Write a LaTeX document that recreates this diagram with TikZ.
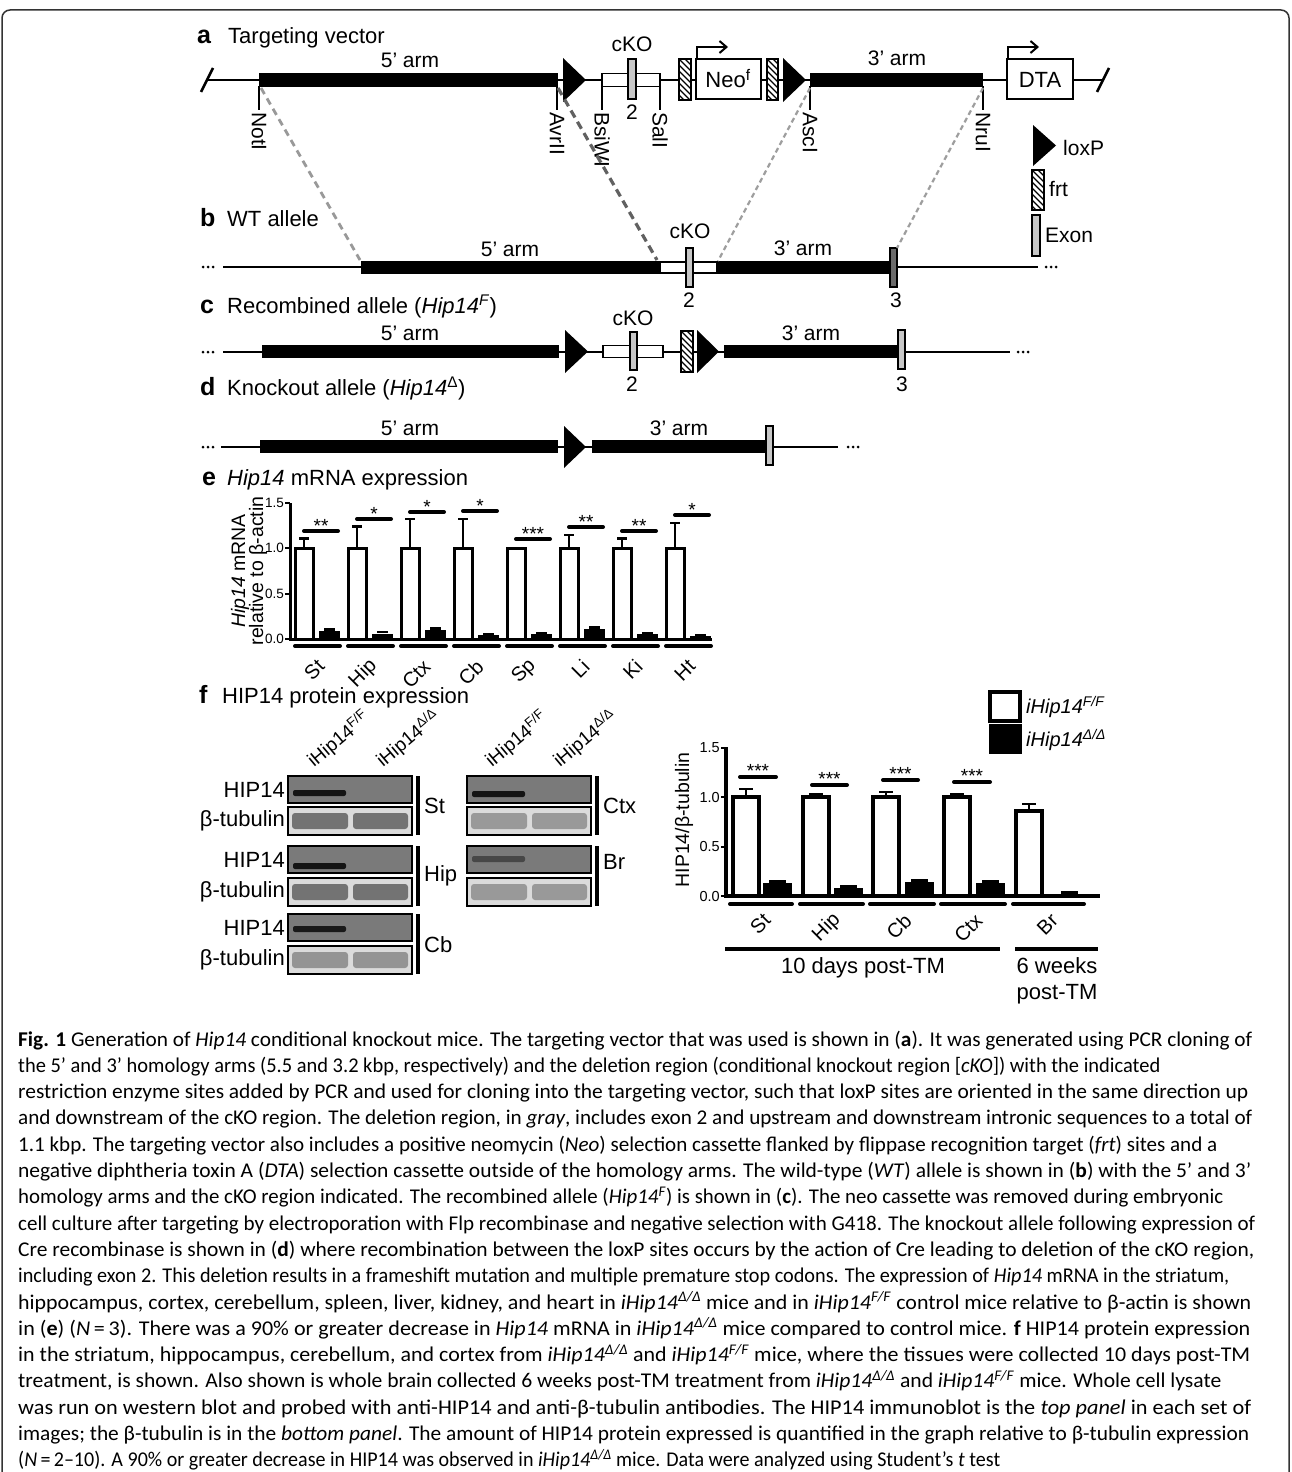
\documentclass[tikz,border=0pt]{standalone}
\usepackage{fontspec}
\setmainfont{Liberation Sans}
\newfontfamily\capfont{Carlito}
\usepackage{graphicx}
\usetikzlibrary{arrows.meta}
\newcommand\fsz[1]{\fontsize{#1}{#1}\selectfont}
\newcommand\frtbox[4]{%
  \fill[white] (#1,#2) rectangle (#3,#4);
  \begin{scope}
    \clip (#1,#2) rectangle (#3,#4);
    \foreach \k in {-48,-42,...,12} \draw[line width=1.3pt] ({#1+\k},#2) -- ++(48,48);
  \end{scope}
  \draw[line width=1.8pt] (#1,#2) rectangle (#3,#4);}
\newcommand\hipblot[4]{%
  \fill[black!52] (#1,#2) rectangle ++(124,27);
  \fill[#4, rounded corners=2pt] ({#1+5},{#3-3}) rectangle ({#1+58},{#3+3});
  \draw[line width=2pt] (#1,#2) rectangle ++(124,27);}
\newcommand\tubblot[3]{%
  \fill[black!14] (#1,#2) rectangle ++(124,28);
  \fill[#3, rounded corners=3pt] ({#1+4},{#2+6}) rectangle ({#1+60},{#2+22});
  \fill[#3, rounded corners=3pt] ({#1+65},{#2+6}) rectangle ({#1+120},{#2+22});
  \draw[line width=2pt] (#1,#2) rectangle ++(124,28);}
\newcommand\capline[3]{\node[anchor=base west, inner sep=0pt] (cap#1) at (18,{1046+26.3*(#1-1)}) {\resizebox{#2pt}{\height}{\capfont\fsz{21}#3}};}
\tikzset{
  bb/.style={line width=2.2pt},
  boxw/.style={draw=black, fill=white, line width=1.8pt},
  exl/.style={draw=black, fill=black!22, line width=1.6pt},
  exd/.style={draw=black, fill=black!58, line width=1.6pt},
  sitetick/.style={line width=1.8pt},
  sitelbl/.style={inner sep=0pt, font=\fsz{21}, rotate=-90, anchor=west},
  lbl/.style={inner sep=0pt, font=\fsz{21}, anchor=base},
  hdr/.style={inner sep=0pt, font=\fsz{22}, anchor=base west},
  plet/.style={inner sep=0pt, font=\fsz{25}\bfseries, anchor=base west},
  dashL/.style={draw=black!40, line width=2.8pt, dash pattern=on 7pt off 5pt},
  dashD/.style={draw=black!62, line width=3.2pt, dash pattern=on 8pt off 5pt},
  dashT/.style={draw=black!38, line width=2.2pt, dash pattern=on 5pt off 3.5pt},
  barw/.style={draw=black, fill=white, line width=3pt},
  errl/.style={line width=2.4pt},
  sigl/.style={line width=4pt, line cap=round},
  ull/.style={line width=4pt, line cap=round},
  stars/.style={inner sep=0pt, font=\fsz{19}},
  ticklbl/.style={inner sep=0pt, font=\fsz{13.5}, anchor=east},
  catl/.style={inner sep=0pt, font=\fsz{20}, rotate=45, anchor=east},
  blotlbl/.style={inner sep=0pt, font=\fsz{22}, anchor=east},
  brk/.style={line width=4pt},
  lanehdr/.style={inner sep=0pt, font=\fsz{19}, rotate=40, anchor=base west},
}
\begin{document}
\begin{tikzpicture}[x=1pt,y=-1pt]
\useasboundingbox (0,0) rectangle (1292,1472);
\fill[white] (0,0) rectangle (1292,1472);
% frame
\draw[line width=1.5pt, black!80, rounded corners=8pt] (2,1480) -- (2,10) -- (1289,10) -- (1289,1480);

% ================= panel a =================
\node[plet] (la) at (197,44) {a};
\node[hdr] (ta) at (228,44) {Targeting vector};
\draw[bb] (208,80) -- (1103,80);
\draw[line width=2.5pt] (201,92) -- (213,68);
\draw[line width=2.5pt] (1097,92) -- (1109,68);
\fill (259,73) rectangle (558,87);
\fill (563,58) -- (563,102) -- (586,80) -- cycle;
\draw[boxw] (602,73.5) rectangle (660,86.5);
\draw[exl] (628,59) rectangle (636,99);
\frtbox{679}{59}{691}{100}
\draw[boxw] (696,59) rectangle (761,99);
\frtbox{767}{59}{778}{100}
\fill (783,58) -- (783,102) -- (806,80) -- cycle;
\fill (810,73) rectangle (983,87);
\draw[boxw] (1007,59) rectangle (1073,99);
\draw[line width=2pt, -{Straight Barb[length=7pt,width=12pt,line width=2pt]}] (697,59) -- (697,47) -- (728,47);
\draw[line width=2pt, -{Straight Barb[length=7pt,width=12pt,line width=2pt]}] (1008,59) -- (1008,47) -- (1039,47);
\node[lbl] (a5) at (410,67) {5’ arm};
\node[lbl] (a3) at (897,66) {3’ arm};
\node[lbl] (acko) at (632,52) {cKO};
\node[lbl] (ae2) at (632,119) {2};
\node[lbl, font=\fsz{22}] (aneo) at (728,88) {Neo\textsuperscript{f}};
\node[lbl, font=\fsz{22}] (adta) at (1040,88) {DTA};
\foreach \x/\nm/\id in {259/NotI/1, 557/AvrII/2, 602/BsiWI/3, 660/SalI/4, 810/AscI/5, 983/NruI/6} {
  \draw[sitetick] (\x,86) -- (\x,110);
  \node[sitelbl] (site\id) at (\x,112) {\nm};
}
% legend
\fill (1033,125) -- (1033,166) -- (1056,145.5) -- cycle;
\node[hdr, font=\fsz{21}] (lglox) at (1063,155) {loxP};
\frtbox{1032}{170}{1044}{210}
\node[hdr, font=\fsz{21}] (lgfrt) at (1049,196) {frt};
\draw[exl] (1032,215) rectangle (1040,256);
\node[hdr, font=\fsz{21}] (lgex) at (1045,242) {Exon};

% ================= panel b =================
\node[plet] (lb) at (200,226) {b};
\node[hdr] (tb) at (227,226) {WT allele};
\foreach \x in {203,208,213} \fill (\x,267) circle (1.5);
\draw[bb] (223,267) -- (1038,267);
\fill (361,261) rectangle (660,274);
\draw[boxw] (660,262) rectangle (717,273);
\fill (717,261) rectangle (890,274);
\draw[exl] (686,248) rectangle (693,287);
\draw[exd] (890,248) rectangle (897,287);
\foreach \x in {1046,1051,1056} \fill (\x,267) circle (1.5);
\node[lbl] (b5) at (510,256) {5’ arm};
\node[lbl] (bcko) at (690,238) {cKO};
\node[lbl] (b3) at (803,255) {3’ arm};
\node[lbl] (be2) at (689,307) {2};
\node[lbl] (be3) at (896,307) {3};

% dashed correspondences
\coordinate (dA1) at (261,88); \coordinate (dB1) at (360,260);
\coordinate (dA2) at (558,88); \coordinate (dB2) at (657,260);
\coordinate (dA3) at (810,88); \coordinate (dB3) at (718,261);
\coordinate (dA4) at (983,88); \coordinate (dB4) at (897,248);
\draw[dashL] (dA1) -- (dB1);
\draw[dashD] (dA2) -- (dB2);
\draw[dashT] (dA3) -- (dB3);
\draw[dashT] (dA4) -- (dB4);

% ================= panel c =================
\node[plet] (lc) at (200,313) {c};
\node[hdr] (tc) at (227,313) {Recombined allele (\textit{Hip14}\textsuperscript{\textit{F}})};
\foreach \x in {203,208,213} \fill (\x,352) circle (1.5);
\draw[bb] (223,352) -- (1010,352);
\fill (262,345) rectangle (559,358);
\fill (565,330) -- (565,373) -- (588,351.5) -- cycle;
\draw[boxw] (603,345.5) rectangle (663,357.5);
\draw[exl] (630,332) rectangle (637,370);
\frtbox{681}{331}{693}{372}
\fill (697,330) -- (697,373) -- (719,351.5) -- cycle;
\fill (724,345) rectangle (898,358);
\draw[exl] (898,330) rectangle (905,369);
\foreach \x in {1018,1023,1028} \fill (\x,352) circle (1.5);
\node[lbl] (c5) at (410,340) {5’ arm};
\node[lbl] (ccko) at (633,325) {cKO};
\node[lbl] (ce2) at (632,391) {2};
\node[lbl] (c3) at (811,340) {3’ arm};
\node[lbl] (ce3) at (902,391) {3};

% ================= panel d =================
\node[plet] (ld) at (200,395) {d};
\node[hdr] (td) at (227,395) {Knockout allele (\textit{Hip14}\textsuperscript{Δ})};
\foreach \x in {203,208,213} \fill (\x,447) circle (1.5);
\draw[bb] (221,447) -- (838,447);
\fill (260,440) rectangle (558,453);
\fill (564,426) -- (564,468) -- (586,447) -- cycle;
\fill (592,440) rectangle (766,453);
\draw[exl] (766,426) rectangle (773,465);
\foreach \x in {848,853,858} \fill (\x,447) circle (1.5);
\node[lbl] (d5) at (410,435) {5’ arm};
\node[lbl] (d3) at (679,435) {3’ arm};

% ================= panel e =================
\node[plet] (le) at (202,485) {e};
\node[hdr] (te) at (227,485) {\textit{Hip14} mRNA expression};
\node[inner sep=0pt, font=\fsz{19.5}, rotate=90] (eyl1) at (240,571) {\textit{Hip14} mRNA};
\node[inner sep=0pt, font=\fsz{19.5}, rotate=90] (eyl2) at (258,571) {relative to β-actin};
\foreach \v/\t/\id in {0/0.0/a, 0.5/0.5/b, 1/1.0/c, 1.5/1.5/d} {
  \draw[line width=2pt] (285,{639-90.7*\v}) -- (290,{639-90.7*\v});
  \node[ticklbl] (etk\id) at (284,{639-90.7*\v}) {\t};
}
\foreach \i/\err/\bv/\sy/\st/\cat in {0/1.11/0.09/531/**/St, 1/1.24/0.06/519/*/Hip, 2/1.32/0.10/512/*/Ctx, 3/1.32/0.04/511/*/Cb, 4/1.0/0.05/539/***/Sp, 5/1.15/0.11/527/**/Li, 6/1.11/0.05/531/**/Ki, 7/1.28/0.03/515/*/Ht} {
  \pgfmathsetmacro\xw{295+53*\i}
  \pgfmathsetmacro\yt{639-90.7}
  \pgfmathsetmacro\ye{639-90.7*\err}
  \pgfmathsetmacro\yb{639-90.7*\bv}
  \draw[errl] ({\xw+9},\yt) -- ({\xw+9},\ye) ({\xw+4},\ye) -- ({\xw+14},\ye);
  \draw[barw] (\xw,639) rectangle ({\xw+18},\yt);
  \fill ({\xw+24},639) rectangle ({\xw+45},\yb);
  \draw[errl] ({\xw+29},{\yb-1.5}) -- ({\xw+40},{\yb-1.5});
  \draw[sigl] ({\xw+9},\sy) -- ({\xw+43},\sy);
  \node[stars] (est\i) at ({\xw+26},{\sy-5}) {\st};
  \draw[ull] ({\xw},646) -- ({\xw+45},646);
  \node[catl] (ecat\i) at ({\xw+26},663) {\cat};
}
\draw[line width=3pt] (290,503) -- (290,640.5);
\draw[line width=3pt] (288.5,639) -- (712,639);

% ================= panel f =================
\node[plet] (lf) at (199,703) {f};
\node[hdr] (tf) at (222,703) {HIP14 protein expression};
\node[lanehdr] (h1) at (314,768) {iHip14\textsuperscript{F/F}};
\node[lanehdr] (h2) at (383,768) {iHip14\textsuperscript{Δ/Δ}};
\node[lanehdr] (h3) at (492,768) {iHip14\textsuperscript{F/F}};
\node[lanehdr] (h4) at (560,768) {iHip14\textsuperscript{Δ/Δ}};
\hipblot{288}{776}{793}{black!92}
\tubblot{288}{807}{black!55}
\hipblot{288}{846}{866}{black!92}
\tubblot{288}{878}{black!55}
\hipblot{288}{914}{929}{black!90}
\tubblot{288}{946}{black!42}
\hipblot{467}{776}{794}{black!92}
\tubblot{467}{807}{black!40}
\hipblot{467}{846}{859}{black!72}
\tubblot{467}{878}{black!40}
\node[blotlbl] (bl1) at (285,790) {HIP14};
\node[blotlbl] (bl2) at (285,821) {β-tubulin};
\node[blotlbl] (bl3) at (285,860) {HIP14};
\node[blotlbl] (bl4) at (285,892) {β-tubulin};
\node[blotlbl] (bl5) at (285,928) {HIP14};
\node[blotlbl] (bl6) at (285,960) {β-tubulin};
\draw[brk] (418,776) -- (418,835);
\draw[brk] (418,846) -- (418,906);
\draw[brk] (418,914) -- (418,974);
\draw[brk] (597,776) -- (597,835);
\draw[brk] (597,846) -- (597,906);
\node[inner sep=0pt, font=\fsz{22}, anchor=west] (bSt) at (424,806) {St};
\node[inner sep=0pt, font=\fsz{22}, anchor=west] (bHip) at (424,876) {Hip};
\node[inner sep=0pt, font=\fsz{22}, anchor=west] (bCb) at (424,945) {Cb};
\node[inner sep=0pt, font=\fsz{22}, anchor=west] (bCtx) at (603,806) {Ctx};
\node[inner sep=0pt, font=\fsz{22}, anchor=west] (bBr) at (603,862) {Br};

% f chart
\node[inner sep=0pt, font=\fsz{19.5}, rotate=90] (fyl) at (684,820) {HIP14/β-tubulin};
\foreach \v/\t/\id in {0/0.0/a, 0.5/0.5/b, 1/1.0/c, 1.5/1.5/d} {
  \draw[line width=2pt] (721,{896-99*\v}) -- (726,{896-99*\v});
  \node[ticklbl, font=\fsz{14.5}] (ftk\id) at (720,{896-99*\v}) {\t};
}
\foreach \i/\xw/\xb/\wv/\err/\bv/\cat in {0/733/763/1/1.08/0.13/St, 1/803/834/1/1.03/0.08/Hip, 2/873/905/1/1.05/0.14/Cb, 3/944/976/1/1.03/0.13/Ctx, 4/1016/1055/0.86/0.93/0.02/Br} {
  \pgfmathsetmacro\yt{896-99*\wv}
  \pgfmathsetmacro\ye{896-99*\err}
  \pgfmathsetmacro\yb{896-99*\bv}
  \draw[errl] ({\xw+13},\yt) -- ({\xw+13},\ye) ({\xw+6},\ye) -- ({\xw+20},\ye);
  \draw[barw, line width=3.5pt] (\xw,896) rectangle ({\xw+26},\yt);
  \fill (\xb,896) rectangle ({\xb+29},\yb);
  \draw[errl] ({\xb+6},{\yb-1.5}) -- ({\xb+23},{\yb-1.5});
  \draw[ull] ({\xw-3},904) -- ({\xb+29},904);
  \node[catl] (fcat\i) at ({(\xw+\xb+26)/2+6},917) {\cat};
}
\foreach \i/\xa/\xc/\sy in {0/740/776/777, 1/812/847/785, 2/883/918/780, 3/954/990/782} {
  \draw[sigl] (\xa,\sy) -- (\xc,\sy);
  \node[stars] (fst\i) at ({(\xa+\xc)/2},{\sy-6}) {***};
}
\draw[line width=3.5pt] (726,747) -- (726,897.5);
\draw[line width=3.5pt] (724.5,896) -- (1100,896);
\draw[line width=4pt] (725,949) -- (1000,949);
\draw[line width=4pt] (1015,949) -- (1098,949);
\node[inner sep=0pt, font=\fsz{22}, anchor=base] (f10) at (863,973) {10 days post-TM};
\node[inner sep=0pt, font=\fsz{22}, anchor=base] (f6a) at (1057,973) {6 weeks};
\node[inner sep=0pt, font=\fsz{22}, anchor=base] (f6b) at (1057,999) {post-TM};
% legend
\draw[line width=3.5pt] (990,692) rectangle (1020,721);
\fill (988.5,724) rectangle (1021.5,754);
\node[inner sep=0pt, font=\fsz{20}, anchor=west] (lgF) at (1026,707) {\textit{iHip14}\textsuperscript{\textit{F/F}}};
\node[inner sep=0pt, font=\fsz{20}, anchor=west] (lgD) at (1026,740) {\textit{iHip14}\textsuperscript{\textit{Δ/Δ}}};

% ================= caption =================
\capline{1}{1234}{\textbf{Fig. 1} Generation of \textit{Hip14} conditional knockout mice. The targeting vector that was used is shown in (\textbf{a}). It was generated using PCR cloning of}
\capline{2}{1142}{the 5’ and 3’ homology arms (5.5 and 3.2 kbp, respectively) and the deletion region (conditional knockout region [\textit{cKO}]) with the indicated}
\capline{3}{1230}{restriction enzyme sites added by PCR and used for cloning into the targeting vector, such that loxP sites are oriented in the same direction up}
\capline{4}{1234}{and downstream of the cKO region. The deletion region, in \textit{gray}, includes exon 2 and upstream and downstream intronic sequences to a total of}
\capline{5}{1199}{1.1 kbp. The targeting vector also includes a positive neomycin (\textit{Neo}) selection cassette flanked by flippase recognition target (\textit{frt}) sites and a}
\capline{6}{1233}{negative diphtheria toxin A (\textit{DTA}) selection cassette outside of the homology arms. The wild-type (\textit{WT}) allele is shown in (\textbf{b}) with the 5’ and 3’}
\capline{7}{1205}{homology arms and the cKO region indicated. The recombined allele (\textit{Hip14}\textsuperscript{\textit{F}}) is shown in (\textbf{c}). The neo cassette was removed during embryonic}
\capline{8}{1237}{cell culture after targeting by electroporation with Flp recombinase and negative selection with G418. The knockout allele following expression of}
\capline{9}{1236}{Cre recombinase is shown in (\textbf{d}) where recombination between the loxP sites occurs by the action of Cre leading to deletion of the cKO region,}
\capline{10}{1211}{including exon 2. This deletion results in a frameshift mutation and multiple premature stop codons. The expression of \textit{Hip14} mRNA in the striatum,}
\capline{11}{1233}{hippocampus, cortex, cerebellum, spleen, liver, kidney, and heart in \textit{iHip14}\textsuperscript{\textit{Δ/Δ}} mice and in \textit{iHip14}\textsuperscript{\textit{F/F}} control mice relative to β-actin is shown}
\capline{12}{1232}{in (\textbf{e}) (\textit{N}\,=\,3). There was a 90\% or greater decrease in \textit{Hip14} mRNA in \textit{iHip14}\textsuperscript{\textit{Δ/Δ}} mice compared to control mice. \textbf{f} HIP14 protein expression}
\capline{13}{1232}{in the striatum, hippocampus, cerebellum, and cortex from \textit{iHip14}\textsuperscript{\textit{Δ/Δ}} and \textit{iHip14}\textsuperscript{\textit{F/F}} mice, where the tissues were collected 10 days post-TM}
\capline{14}{1203}{treatment, is shown. Also shown is whole brain collected 6 weeks post-TM treatment from \textit{iHip14}\textsuperscript{\textit{Δ/Δ}} and \textit{iHip14}\textsuperscript{\textit{F/F}} mice. Whole cell lysate}
\capline{15}{1233}{was run on western blot and probed with anti-HIP14 and anti-β-tubulin antibodies. The HIP14 immunoblot is the \textit{top panel} in each set of}
\capline{16}{1231}{images; the β-tubulin is in the \textit{bottom panel}. The amount of HIP14 protein expressed is quantified in the graph relative to β-tubulin expression}
\capline{17}{982}{(\textit{N}\,=\,2–10). A 90\% or greater decrease in HIP14 was observed in \textit{iHip14}\textsuperscript{\textit{Δ/Δ}} mice. Data were analyzed using Student’s \textit{t} test}
\end{tikzpicture}
\end{document}
